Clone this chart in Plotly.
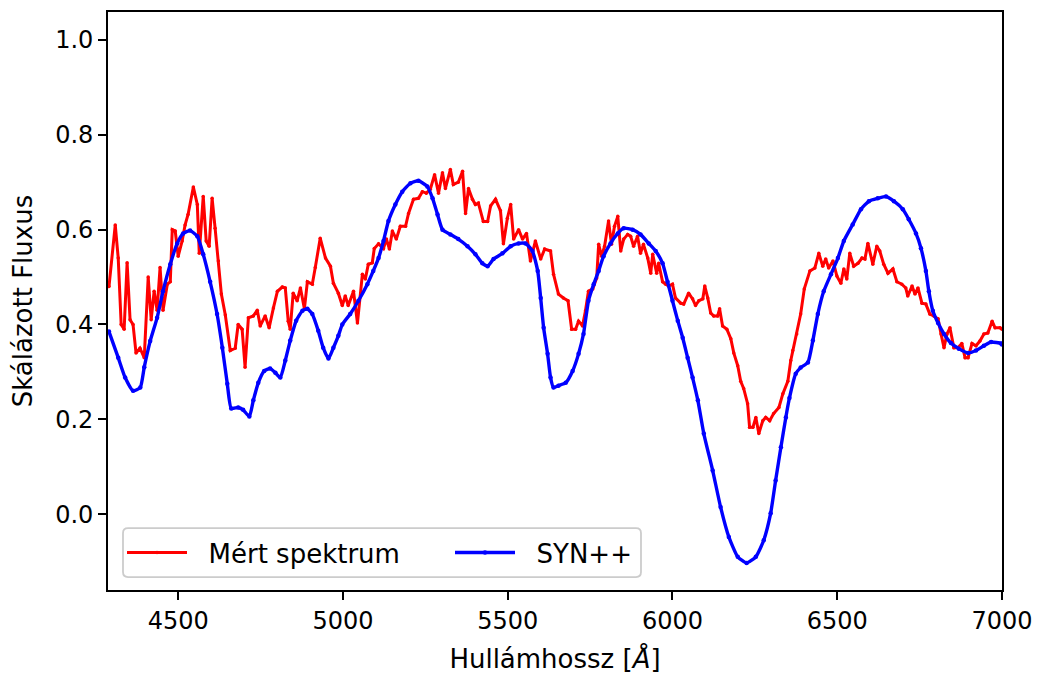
import plotly.graph_objects as go

# Measured spectrum (red)
meas_wl = [4290, 4309, 4318, 4327, 4336, 4345, 4354, 4363, 4372, 4384, 4397, 4409, 4418, 4427, 4436, 4445, 4454,
           4467, 4476, 4482, 4491, 4500, 4512, 4521, 4530, 4546, 4558, 4564, 4576, 4585, 4594, 4603, 4612, 4622,
           4631, 4643, 4658, 4673, 4682, 4694, 4703, 4713, 4728, 4740, 4749, 4764, 4776, 4789, 4801, 4816, 4825,
           4834, 4840, 4849, 4861, 4871, 4883, 4892, 4907, 4916, 4931, 4947, 4962, 4971, 4986, 4998, 5007, 5016,
           5032, 5044, 5059, 5068, 5077, 5089, 5095, 5108, 5123, 5132, 5141, 5150, 5162, 5174, 5190, 5199, 5214,
           5229, 5241, 5253, 5265, 5278, 5290, 5302, 5311, 5326, 5335, 5350, 5363, 5372, 5381, 5393, 5402, 5411,
           5426, 5439, 5448, 5463, 5478, 5487, 5499, 5509, 5518, 5533, 5545, 5557, 5569, 5584, 5600, 5612, 5630,
           5639, 5654, 5669, 5683, 5694, 5706, 5715, 5727, 5736, 5745, 5758, 5770, 5776, 5785, 5794, 5806, 5815,
           5824, 5834, 5843, 5852, 5864, 5873, 5882, 5894, 5903, 5912, 5925, 5934, 5940, 5952, 5958, 5970, 5979,
           5988, 6000, 6009, 6025, 6034, 6049, 6061, 6070, 6080, 6092, 6098, 6107, 6116, 6125, 6137, 6143, 6152,
           6165, 6177, 6186, 6198, 6207, 6216, 6228, 6234, 6244, 6253, 6262, 6274, 6283, 6295, 6307, 6323, 6335,
           6350, 6359, 6365, 6377, 6389, 6400, 6417, 6432, 6444, 6456, 6465, 6474, 6487, 6499, 6511, 6520, 6529,
           6538, 6550, 6563, 6575, 6584, 6593, 6608, 6620, 6629, 6641, 6654, 6669, 6681, 6696, 6708, 6714, 6727,
           6736, 6745, 6757, 6769, 6781, 6793, 6806, 6815, 6824, 6833, 6842, 6854, 6866, 6878, 6888, 6897, 6909,
           6921, 6933, 6945, 6957, 6970, 6979, 6994, 7000]
meas_flux = [0.48, 0.61, 0.54, 0.40, 0.39, 0.53, 0.41, 0.40, 0.34, 0.35, 0.33, 0.50, 0.41, 0.47, 0.43, 0.52, 0.43,
             0.485, 0.49, 0.60, 0.597, 0.544, 0.576, 0.61, 0.632, 0.69, 0.653, 0.55, 0.67, 0.576, 0.565, 0.666,
             0.603, 0.534, 0.464, 0.42, 0.345, 0.35, 0.40, 0.39, 0.31, 0.414, 0.418, 0.43, 0.397, 0.418, 0.393,
             0.435, 0.47, 0.479, 0.477, 0.407, 0.39, 0.466, 0.45, 0.477, 0.433, 0.49, 0.485, 0.52, 0.582, 0.54,
             0.523, 0.487, 0.466, 0.44, 0.46, 0.44, 0.47, 0.403, 0.506, 0.496, 0.527, 0.53, 0.56, 0.57, 0.56, 0.58,
             0.559, 0.597, 0.58, 0.607, 0.607, 0.634, 0.664, 0.666, 0.68, 0.677, 0.685, 0.716, 0.677, 0.72, 0.687,
             0.727, 0.695, 0.70, 0.723, 0.634, 0.687, 0.664, 0.653, 0.656, 0.617, 0.617, 0.65, 0.664, 0.64, 0.57,
             0.624, 0.653, 0.58, 0.60, 0.58, 0.592, 0.534, 0.576, 0.538, 0.559, 0.555, 0.506, 0.464, 0.456, 0.45,
             0.39, 0.39, 0.407, 0.397, 0.429, 0.47, 0.475, 0.498, 0.569, 0.544, 0.565, 0.618, 0.569, 0.607, 0.628,
             0.555, 0.58, 0.59, 0.586, 0.565, 0.586, 0.55, 0.569, 0.54, 0.508, 0.548, 0.508, 0.529, 0.49, 0.485,
             0.481, 0.485, 0.456, 0.445, 0.443, 0.466, 0.454, 0.44, 0.45, 0.454, 0.481, 0.456, 0.424, 0.418, 0.418,
             0.433, 0.397, 0.39, 0.37, 0.34, 0.313, 0.28, 0.265, 0.233, 0.183, 0.183, 0.204, 0.17, 0.197, 0.204,
             0.197, 0.212, 0.225, 0.254, 0.28, 0.324, 0.345, 0.38, 0.422, 0.475, 0.513, 0.519, 0.55, 0.523, 0.538,
             0.519, 0.534, 0.502, 0.487, 0.517, 0.496, 0.55, 0.523, 0.529, 0.54, 0.538, 0.571, 0.527, 0.565, 0.555,
             0.527, 0.508, 0.517, 0.49, 0.485, 0.477, 0.46, 0.481, 0.464, 0.477, 0.445, 0.443, 0.422, 0.418, 0.412,
             0.38, 0.351, 0.38, 0.393, 0.351, 0.351, 0.36, 0.33, 0.33, 0.36, 0.355, 0.365, 0.38, 0.382, 0.407,
             0.393, 0.393, 0.39]

# SYN++ synthetic spectrum (blue)
syn_wl = [4290, 4318, 4339, 4363, 4385, 4397, 4415, 4436, 4454, 4476, 4497, 4515, 4536, 4558, 4576, 4597, 4618,
          4634, 4649, 4661, 4682, 4697, 4716, 4728, 4743, 4761, 4779, 4795, 4810, 4825, 4840, 4858, 4877, 4892,
          4907, 4925, 4940, 4956, 4971, 4986, 4998, 5022, 5047, 5074, 5092, 5108, 5123, 5138, 5159, 5180, 5205,
          5229, 5256, 5272, 5287, 5302, 5326, 5350, 5378, 5402, 5423, 5439, 5457, 5484, 5509, 5533, 5554, 5575,
          5591, 5600, 5609, 5621, 5630, 5639, 5654, 5676, 5697, 5715, 5730, 5745, 5761, 5776, 5791, 5812, 5834,
          5852, 5879, 5903, 5928, 5949, 5970, 5985, 6000, 6016, 6031, 6046, 6061, 6077, 6095, 6122, 6146, 6171,
          6198, 6225, 6253, 6277, 6298, 6313, 6329, 6344, 6355, 6374, 6389, 6411, 6426, 6441, 6459, 6481, 6502,
          6520, 6547, 6572, 6596, 6623, 6648, 6672, 6699, 6717, 6739, 6754, 6769, 6778, 6790, 6806, 6824, 6845,
          6869, 6897, 6921, 6945, 6967, 6997, 7000]
syn_flux = [0.385, 0.33, 0.288, 0.26, 0.267, 0.31, 0.365, 0.414, 0.47, 0.527, 0.571, 0.592, 0.598, 0.586, 0.548,
            0.49, 0.422, 0.351, 0.275, 0.223, 0.225, 0.22, 0.206, 0.24, 0.277, 0.302, 0.307, 0.298, 0.288, 0.324,
            0.366, 0.408, 0.429, 0.433, 0.422, 0.387, 0.351, 0.328, 0.351, 0.376, 0.40, 0.422, 0.45, 0.485, 0.513,
            0.54, 0.576, 0.618, 0.653, 0.68, 0.698, 0.703, 0.691, 0.666, 0.632, 0.60, 0.59, 0.58, 0.565, 0.548,
            0.529, 0.523, 0.538, 0.55, 0.565, 0.571, 0.571, 0.555, 0.513, 0.456, 0.393, 0.338, 0.288, 0.267, 0.271,
            0.277, 0.302, 0.338, 0.38, 0.45, 0.485, 0.513, 0.544, 0.571, 0.592, 0.603, 0.60, 0.59, 0.571, 0.555,
            0.529, 0.49, 0.45, 0.408, 0.372, 0.33, 0.288, 0.24, 0.17, 0.092, 0.015, -0.048, -0.09, -0.103, -0.09,
            -0.055, 0.002, 0.071, 0.141, 0.204, 0.245, 0.296, 0.309, 0.32, 0.366, 0.422, 0.47, 0.506, 0.54, 0.576,
            0.611, 0.643, 0.66, 0.666, 0.67, 0.66, 0.643, 0.622, 0.592, 0.561, 0.513, 0.47, 0.429, 0.403, 0.38,
            0.361, 0.349, 0.34, 0.345, 0.355, 0.363, 0.36, 0.358]

series_names = ["Mért spektrum", "SYN++"]
x_ticks = [4500, 5000, 5500, 6000, 6500, 7000]
y_ticks = [0.0, 0.2, 0.4, 0.6, 0.8, 1.0]

FONT = "DejaVu Sans"
FS = 24
FS_LABEL = 26
FS_LEGEND = 26
GAP = "\u00a0\u00a0"  # extra room between legend line and label (matplotlib handletextpad)

fig = go.Figure()
fig.add_trace(go.Scatter(
    x=meas_wl, y=meas_flux, mode="lines+markers", name=GAP + series_names[0], legend="legend",
    showlegend=True,
    line=dict(color="#ff0000", width=3), marker=dict(color="#ff0000", size=3.5),
))
fig.add_trace(go.Scatter(
    x=syn_wl, y=syn_flux, mode="lines+markers", name=GAP + series_names[1], legend="legend2",
    showlegend=True,
    line=dict(color="#0000ff", width=3.4, shape="spline", smoothing=0.5),
    marker=dict(color="#0000ff", size=4.5),
))

axis_common = dict(
    showline=True, mirror=True, linecolor="black", linewidth=1.8,
    ticks="outside", ticklen=8, tickwidth=1.8, tickcolor="black",
    showgrid=False, zeroline=False,
    tickfont=dict(family=FONT, size=FS, color="black"),
)

# legend frame (rounded box) in paper coordinates
PW, PH = 894.0, 580.0
bx0, bx1 = 15 / PW, 533 / PW
by0, by1 = 13 / PH, 62 / PH
rx, ry = 5 / PW, 5 / PH
box_path = (f"M {bx0+rx},{by0} L {bx1-rx},{by0} Q {bx1},{by0} {bx1},{by0+ry} "
            f"L {bx1},{by1-ry} Q {bx1},{by1} {bx1-rx},{by1} "
            f"L {bx0+rx},{by1} Q {bx0},{by1} {bx0},{by1-ry} "
            f"L {bx0},{by0+ry} Q {bx0},{by0} {bx0+rx},{by0} Z")

leg_common = dict(
    orientation="h", yanchor="middle", xanchor="left",
    bgcolor="rgba(0,0,0,0)", borderwidth=0,
    font=dict(family=FONT, size=FS_LEGEND), itemwidth=60,
)

fig.update_layout(
    width=1041, height=678,
    showlegend=True,
    margin=dict(l=100, r=47, t=2, b=96),
    paper_bgcolor="white", plot_bgcolor="white",
    font=dict(family=FONT, size=FS, color="black"),
    xaxis=dict(range=[4287, 7000], tickvals=x_ticks,
               title=dict(text="Hullámhossz [<i>Å</i>]", font=dict(family=FONT, size=FS_LABEL), standoff=16),
               **axis_common),
    yaxis=dict(range=[-0.16, 1.059], tickvals=y_ticks, ticktext=[f"{v:.1f}" for v in y_ticks],
               title=dict(text="Skálázott Fluxus", font=dict(family=FONT, size=FS_LABEL), standoff=16),
               **axis_common),
    legend=dict(x=14 / PW, y=37.5 / PH, **leg_common),
    legend2=dict(x=342 / PW, y=37.5 / PH, **leg_common),
    shapes=[dict(type="path", path=box_path, xref="paper", yref="paper", layer="above",
                 fillcolor="rgba(255,255,255,0.8)", line=dict(color="#cccccc", width=1.8))],
)

fig.write_html("out.html")
